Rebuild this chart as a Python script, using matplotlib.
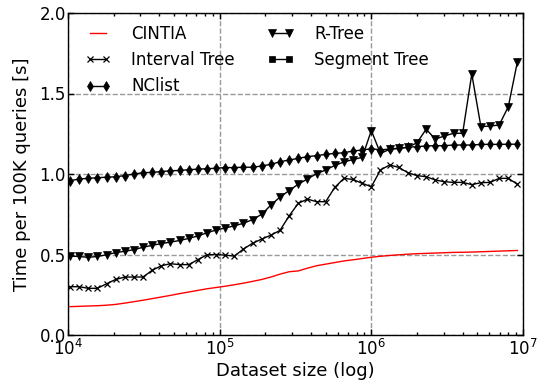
import matplotlib
matplotlib.use("Agg")
import matplotlib.pyplot as plt

sizes = [10309, 11842, 13602, 15625, 17948, 20617, 23683, 27205, 31250, 35897,
         41235, 47366, 54409, 62500, 71794, 82469, 94732, 108819, 125000, 143588,
         164938, 189465, 217638, 250000, 287175, 329877, 378929, 435275, 500000, 574349,
         659754, 757858, 870551, 1000000, 1148698, 1319508, 1515717, 1741101, 2000000, 2297397,
         2639016, 3031433, 3482202, 4000000, 4594793, 5278032, 6062866, 6964405, 8000000, 9189587]

cintia = [0.176, 0.178, 0.180, 0.182, 0.185, 0.190, 0.198, 0.207, 0.216, 0.226,
          0.236, 0.246, 0.257, 0.267, 0.277, 0.287, 0.295, 0.303, 0.312, 0.322,
          0.333, 0.345, 0.360, 0.378, 0.393, 0.398, 0.415, 0.430, 0.440, 0.450,
          0.460, 0.467, 0.475, 0.483, 0.489, 0.494, 0.498, 0.502, 0.505, 0.507,
          0.509, 0.511, 0.513, 0.514, 0.515, 0.517, 0.519, 0.521, 0.523, 0.525]

interval_tree = [0.300, 0.300, 0.290, 0.290, 0.318, 0.345, 0.360, 0.360, 0.360, 0.402,
                 0.430, 0.443, 0.437, 0.437, 0.468, 0.498, 0.500, 0.496, 0.490, 0.534,
                 0.570, 0.596, 0.620, 0.650, 0.740, 0.818, 0.844, 0.828, 0.828, 0.917,
                 0.973, 0.966, 0.942, 0.921, 1.025, 1.056, 1.041, 1.008, 0.990, 0.983,
                 0.963, 0.952, 0.948, 0.948, 0.934, 0.946, 0.948, 0.973, 0.973, 0.936]

nclist = [0.958, 0.969, 0.973, 0.977, 0.980, 0.983, 0.990, 1.000, 1.008, 1.010,
          1.015, 1.020, 1.022, 1.027, 1.030, 1.033, 1.036, 1.040, 1.040, 1.042,
          1.042, 1.050, 1.060, 1.076, 1.087, 1.097, 1.108, 1.114, 1.122, 1.128,
          1.132, 1.143, 1.149, 1.157, 1.150, 1.155, 1.160, 1.166, 1.170, 1.174,
          1.176, 1.176, 1.180, 1.180, 1.180, 1.184, 1.184, 1.184, 1.185, 1.185]

r_tree = [0.490, 0.488, 0.482, 0.488, 0.498, 0.512, 0.520, 0.530, 0.545, 0.557,
          0.568, 0.577, 0.587, 0.600, 0.615, 0.635, 0.652, 0.665, 0.678, 0.694,
          0.717, 0.750, 0.807, 0.857, 0.897, 0.937, 0.969, 1.002, 1.025, 1.053,
          1.075, 1.090, 1.103, 1.270, 1.128, 1.153, 1.160, 1.166, 1.194, 1.278,
          1.217, 1.236, 1.253, 1.253, 1.621, 1.294, 1.298, 1.304, 1.418, 1.698]

segment_tree_x = []
segment_tree = []

y_ticks = [0.0, 0.5, 1.0, 1.5, 2.0]

plt.rcParams['font.family'] = ['DejaVu Sans']
plt.rcParams['mathtext.fontset'] = 'dejavusans'
plt.rcParams['font.size'] = 12

fig = plt.figure(figsize=(5.46, 3.90), dpi=100)
ax = fig.add_axes([68/546, 1-335/390, (523-68)/546, (335-13)/390])

ax.plot(sizes, cintia, color='red', lw=1, label='CINTIA')
ax.plot(sizes, interval_tree, color='black', lw=1, marker='x', ms=5, mew=0.9, label='Interval Tree')
ax.plot(sizes, nclist, color='black', lw=1, marker='d', ms=5, mew=0.5, label='NClist')
ax.plot(sizes, r_tree, color='black', lw=1, marker='v', ms=5.5, mew=0.5, label='R-Tree')
ax.plot(segment_tree_x, segment_tree, color='black', lw=1, marker='s', ms=5, mew=0.5, label='Segment Tree')

ax.set_xscale('log')
ax.set_xlim(1e4, 1e7)
ax.set_ylim(0, 2.0)
ax.set_yticks(y_ticks)
ax.set_yticklabels([f"{v:.1f}" for v in y_ticks])
ax.grid(True, which='major', linestyle='--', color='#999999', lw=1)
ax.set_axisbelow(True)
ax.tick_params(which='both', direction='in', top=True, right=True, labelsize=12)
ax.tick_params(which='major', length=4, width=1)
ax.tick_params(which='minor', length=2, width=1)
ax.tick_params(axis='x', which='major', pad=3)
ax.tick_params(axis='y', which='major', pad=1.5)
for s in ax.spines.values():
    s.set_linewidth(1)

ax.set_xlabel('Dataset size (log)', fontsize=13, labelpad=2)
ax.set_ylabel('Time per 100K queries [s]', fontsize=13, labelpad=6)

ax.legend(loc='upper left', ncol=2, frameon=False, numpoints=2,
          handlelength=1.6, handletextpad=1.2, columnspacing=1.95,
          labelspacing=0.5, borderaxespad=0.9, fontsize=12,
          bbox_to_anchor=(-0.011, 1.031))

fig.savefig('out.png', dpi=100, facecolor='white')
